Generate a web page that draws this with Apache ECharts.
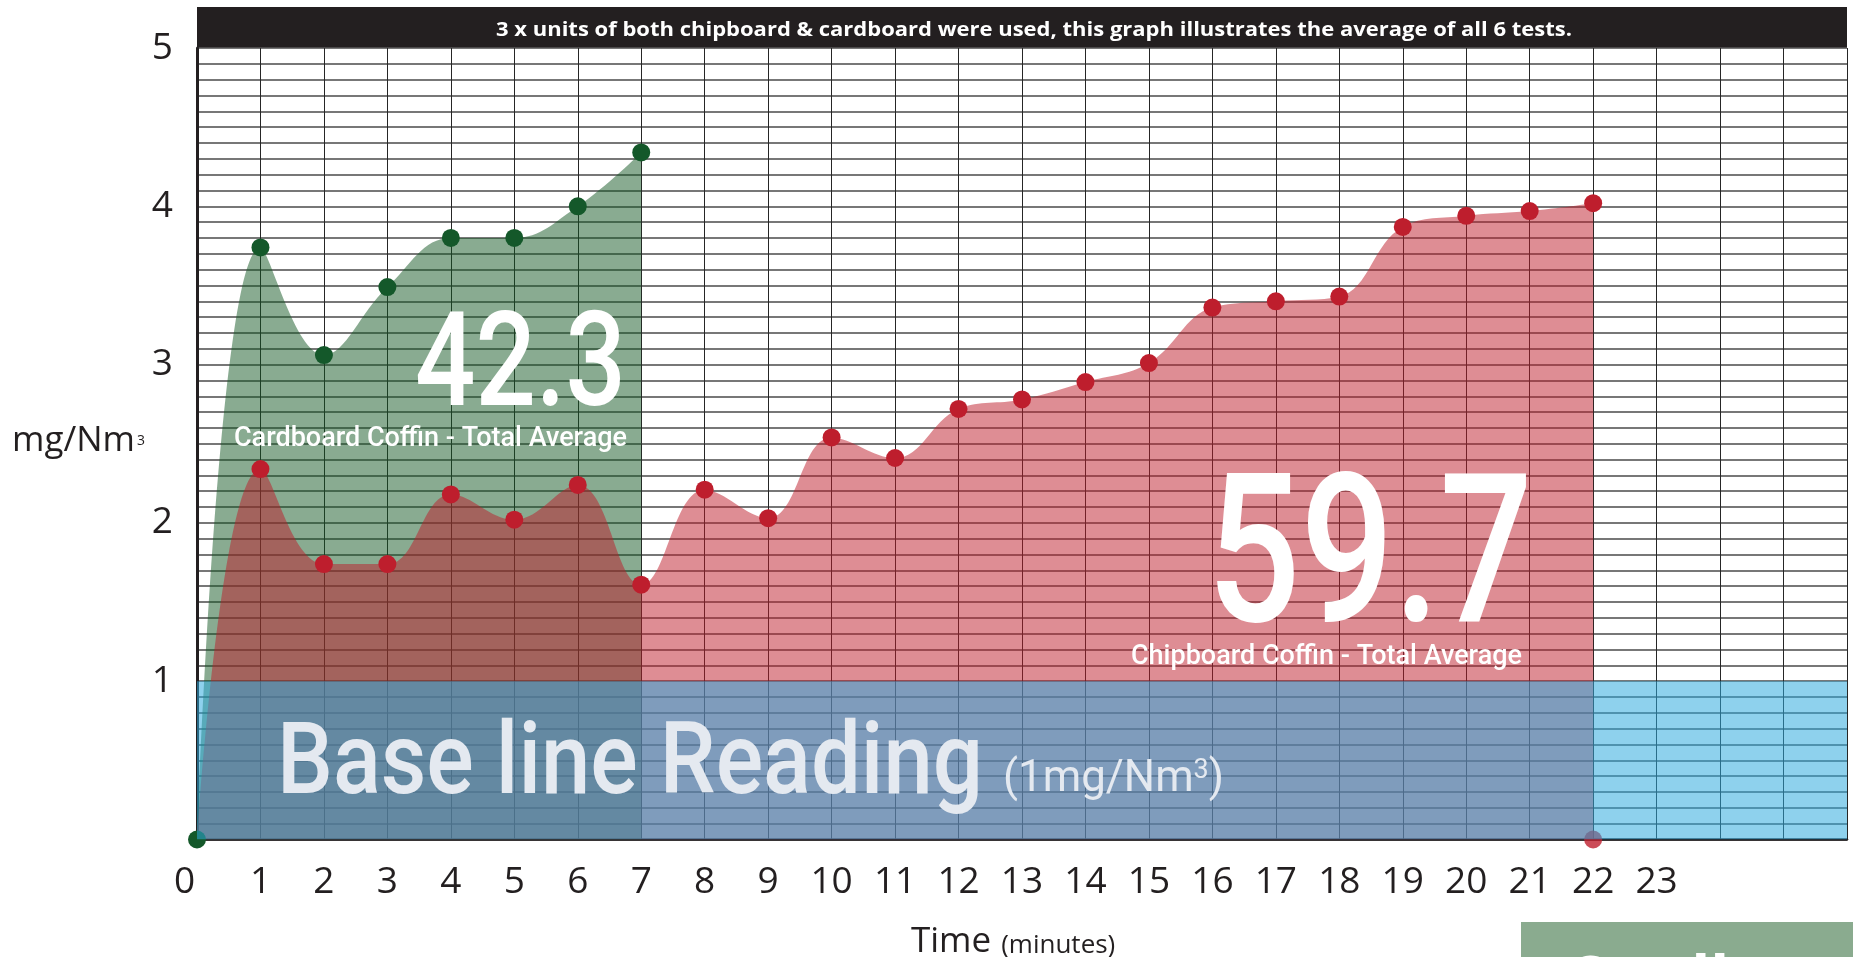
<!DOCTYPE html>
<html>
<head>
<meta charset="utf-8">
<script src="https://cdn.jsdelivr.net/npm/echarts@6/dist/echarts.min.js"></script>
<style>
html,body{margin:0;padding:0;background:#ffffff;}
#chart{width:1853px;height:957px;}
</style>
</head>
<body>
<div id="chart"></div>
<script>
// ---- data ----
const cardboardMinutes = [0, 1, 2, 3, 4, 5, 6, 7];
const cardboardValues  = [0, 3.74, 3.06, 3.49, 3.80, 3.80, 4.00, 4.34];
const chipboardMinutes = [0, 1, 2, 3, 4, 5, 6, 7, 8, 9, 10, 11, 12, 13, 14, 15, 16, 17, 18, 19, 20, 21, 22];
const chipboardValues  = [0, 2.34, 1.74, 1.74, 2.18, 2.02, 2.24, 1.61, 2.21, 2.03, 2.54, 2.41, 2.72, 2.78, 2.89, 3.01, 3.36, 3.40, 3.43, 3.87, 3.94, 3.97, 4.02];
const chipboardEndMinute = [22];
const chipboardEndValue  = [0];
const baselineMinutes = [0, 26];
const baselineValues  = [1, 1];
const xMin = 0, xMax = 26, xLastLabel = 23;
const yMin = 0, yMax = 5;
const titleText = '3 x units of both chipboard & cardboard were used, this graph illustrates the average of all 6 tests.';
const cardboardAverage = '42.3';
const chipboardAverage = '59.7';
const cardboardCaption = 'Cardboard Coffin - Total Average';
const chipboardCaption = 'Chipboard Coffin - Total Average';
const baselineCaption = 'Base line Reading';
const yAxisUnit = ['mg/Nm', '3'];
const xAxisTitle = ['Time', '(minutes)'];
const legendLabel = 'Cardboard';

// ---- helpers ----
const zip = (xs, ys) => xs.map((x, i) => [x, ys[i]]);
const mctx = document.createElement('canvas').getContext('2d');
function fitScale(font, text, target) {
  mctx.font = font;
  return target / mctx.measureText(text).width;
}
const SANS = '"Open Sans", "Noto Sans", sans-serif';
const DIN = 'Roboto, "Noto Sans", sans-serif';

function plainText(text, font, x, y, target, fill) {
  return {
    type: 'text', x: x, y: y, z: 100, silent: true,
    scaleX: target ? fitScale(font, text, target) : 1,
    style: { text: text, font: font, fill: fill,
      align: 'left', verticalAlign: 'middle', textAlign: 'left', textVerticalAlign: 'middle' }
  };
}

const chart = echarts.init(document.getElementById('chart'), null, { renderer: 'canvas' });

const gridLine = { color: '#777777', width: 2 };

const option = {
  animation: false,
  backgroundColor: '#ffffff',
  grid: { left: 197, right: 6, top: 48, bottom: 117.5, containLabel: false, outerBoundsMode: 'none' },
  xAxis: {
    type: 'value', min: xMin, max: xMax, interval: 1,
    axisLine: { show: true, onZero: true, lineStyle: { color: '#231f20', width: 2.5 } },
    axisTick: { show: false },
    splitLine: { show: true, lineStyle: { color: '#262626', width: 1 } },
    axisLabel: {
      show: true, margin: 24, color: '#231f20', fontFamily: SANS, fontSize: 37,
      formatter: function (v) { if (v > xLastLabel) return ''; return v === 0 ? '{z|0}' : String(v); },
      rich: { z: { fontFamily: SANS, fontSize: 37, color: '#231f20', padding: [0, 25, 0, 0] } }
    }
  },
  yAxis: {
    type: 'value', min: yMin, max: yMax, interval: 1,
    axisLine: { show: true, lineStyle: { color: '#231f20', width: 3 } },
    axisTick: { show: false },
    splitLine: { show: true, lineStyle: gridLine },
    minorTick: { show: false, splitNumber: 10 },
    minorSplitLine: { show: true, lineStyle: gridLine },
    axisLabel: {
      show: true, margin: 24, color: '#231f20', fontFamily: SANS, fontSize: 37,
      formatter: function (v) { return v === 0 ? '' : String(v); }
    }
  },
  series: [
    {
      name: 'Cardboard', type: 'line', smooth: 0.4,
      data: zip(cardboardMinutes, cardboardValues),
      symbol: 'circle', symbolSize: 18,
      itemStyle: { color: '#14582a' },
      lineStyle: { width: 0, opacity: 0 },
      areaStyle: { color: 'rgba(20,88,36,0.5)', opacity: 1, origin: 'start' },
      z: 2, silent: true
    },
    {
      name: 'Chipboard', type: 'line', smooth: 0.4,
      data: zip(chipboardMinutes, chipboardValues).map(function (p, i) {
        return i === 0 ? { value: p, symbol: 'none' } : { value: p };
      }),
      symbol: 'circle', symbolSize: 18,
      itemStyle: { color: '#be1e2d' },
      lineStyle: { width: 0, opacity: 0 },
      areaStyle: { color: 'rgba(190,27,42,0.5)', opacity: 1, origin: 'start' },
      z: 2, silent: true
    },
    {
      name: 'Chipboard end', type: 'scatter',
      data: zip(chipboardEndMinute, chipboardEndValue),
      symbol: 'circle', symbolSize: 18,
      itemStyle: { color: '#be1e2d' },
      z: 2, silent: true
    },
    {
      name: 'Base line', type: 'line',
      data: zip(baselineMinutes, baselineValues),
      symbol: 'none',
      lineStyle: { width: 0, opacity: 0 },
      areaStyle: { color: 'rgba(46,170,222,0.54)', opacity: 1, origin: 'start' },
      z: 5, silent: true
    }
  ]
};

chart.setOption(option);

// ---- annotations ----
const p0 = chart.convertToPixel({ gridIndex: 0 }, [xMin, yMax]);
const p1 = chart.convertToPixel({ gridIndex: 0 }, [xMax, yMin]);

const unitMain = 44, unitSup = 27;
mctx.font = '400 ' + unitMain + 'px ' + DIN;
let unitW = mctx.measureText('(1mg/Nm').width + mctx.measureText(')').width;
mctx.font = '400 ' + unitSup + 'px ' + DIN;
unitW += mctx.measureText('3').width;

const graphics = [
  { type: 'rect', z: 90, silent: true,
    shape: { x: p0[0], y: 7, width: p1[0] - p0[0], height: p0[1] - 7.5 },
    style: { fill: '#231f20' } },
  plainText(titleText, '700 19px ' + SANS, 496, 30.5, 1076, '#ffffff'),
  plainText(cardboardAverage, '500 132px ' + DIN, 415, 372, 211, '#ffffff'),
  plainText(cardboardCaption, '500 27px ' + DIN, 234, 439.5, 393, '#ffffff'),
  plainText(chipboardAverage, '500 208px ' + DIN, 1207, 569, 326, '#ffffff'),
  plainText(chipboardCaption, '500 28px ' + DIN, 1131, 656.5, 391, '#ffffff'),
  plainText(baselineCaption, '500 101px ' + DIN, 277, 768, 706, '#e4e9f0'),
  { type: 'text', x: 1003, y: 780, z: 100, silent: true,
    scaleX: 221 / unitW,
    style: {
      text: '{a|(1mg/Nm}{b|3}{a|)}',
      align: 'left', verticalAlign: 'middle', textAlign: 'left', textVerticalAlign: 'middle',
      fill: '#e4e9f0',
      rich: {
        a: { fontFamily: DIN, fontWeight: 400, fontSize: unitMain, fill: '#e4e9f0' },
        b: { fontFamily: DIN, fontWeight: 400, fontSize: unitSup, fill: '#e4e9f0', verticalAlign: 'top' }
      }
    } },
  { type: 'text', x: 12, y: 441, z: 100, silent: true,
    style: {
      text: '{a|' + yAxisUnit[0] + '}{b|' + yAxisUnit[1] + '}',
      align: 'left', verticalAlign: 'middle', textAlign: 'left', textVerticalAlign: 'middle',
      fill: '#231f20',
      rich: {
        a: { fontFamily: SANS, fontSize: 35, fill: '#231f20' },
        b: { fontFamily: SANS, fontSize: 14, fill: '#231f20', padding: [0, 0, 0, 2] }
      }
    } },
  { type: 'text', x: 911, y: 942, z: 100, silent: true,
    style: {
      text: '{a|' + xAxisTitle[0] + '}{b|' + xAxisTitle[1] + '}',
      align: 'left', verticalAlign: 'middle', textAlign: 'left', textVerticalAlign: 'middle',
      fill: '#231f20',
      rich: {
        a: { fontFamily: SANS, fontSize: 35, fill: '#231f20' },
        b: { fontFamily: SANS, fontSize: 26, fill: '#231f20', verticalAlign: 'bottom', padding: [0, 0, 1, 10] }
      }
    } },
  { type: 'rect', z: 90, silent: true,
    shape: { x: 1521, y: 922, width: 1853 - 1521, height: 957 - 922 },
    style: { fill: '#8aab8f' } },
  plainText(legendLabel, '700 62px ' + SANS, 1566, 983, 0, '#ffffff')
];

chart.setOption({ graphic: graphics });
</script>
</body>
</html>
